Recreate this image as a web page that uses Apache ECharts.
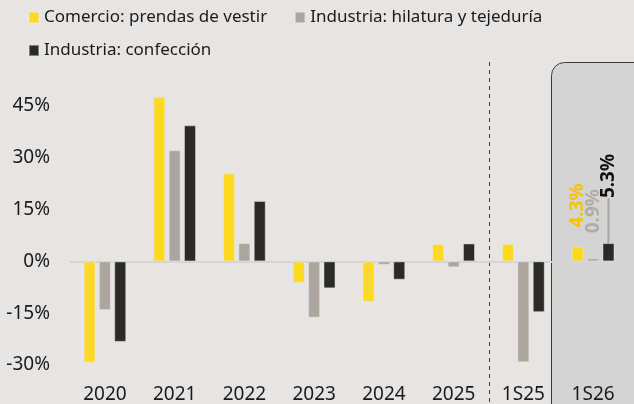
<!DOCTYPE html>
<html>
<head>
<meta charset="utf-8">
<script src="https://cdn.jsdelivr.net/npm/echarts@6/dist/echarts.min.js"></script>
<style>
  html, body { margin: 0; padding: 0; background: #e6e5e3; }
  #chart { width: 634px; height: 404px; }
</style>
</head>
<body>
<div id="chart"></div>
<script>
// datos (% variación)
const categories = ['2020', '2021', '2022', '2023', '2024', '2025', '1S25', '1S26']
const seriesNames = ['Comercio: prendas de vestir', 'Industria: hilatura y tejeduría', 'Industria: confección']
const comercio = [-29.3, 47.7, 25.5, -6.2, -11.7, 5.0, 5.0, 4.3]
const hilatura = [-14.1, 32.2, 5.3, -16.3, -1.0, -1.7, -29.2, 0.9]
const confeccion = [-23.3, 39.4, 17.5, -7.8, -5.3, 5.2, -14.7, 5.3]
const yTicks = { min: -30, max: 45, interval: 15 }

const FONT = 'Noto Sans'
const colors = ['#fdd923', '#aca59e', '#2b2a28']
const labelColors = ['#f7c300', '#b3aca4', '#111111']

const chart = echarts.init(document.getElementById('chart'))

// solo la última barra (1S26) lleva etiqueta, girada
function withLastLabel (values, idx, distance, guide) {
  return values.map((v, i) => {
    if (i !== values.length - 1) return v
    const item = {
      value: v,
      label: {
        show: true,
        position: 'top',
        distance: distance,
        rotate: 90,
        align: 'left',
        verticalAlign: 'middle',
        formatter: (p) => p.value.toFixed(1) + '%',
        color: labelColors[idx],
        fontFamily: FONT,
        fontSize: 19,
        fontWeight: 'bold'
      }
    }
    if (guide) {
      item.labelLine = { show: true, length2: 0, lineStyle: { color: '#a8a39d', width: 2 } }
    }
    return item
  })
}

function barSeries (name, values, idx, distance, guide) {
  const s = {
    name: name,
    type: 'bar',
    barWidth: 12,
    barGap: '28%',
    clip: false,
    itemStyle: { color: colors[idx], borderColor: 'rgba(235,234,232,0.45)', borderWidth: 1 },
    data: withLastLabel(values, idx, distance, guide)
  }
  if (guide) {
    // la etiqueta se sube (dx va en el sentido del texto girado) y queda unida con una guía
    s.labelLayout = (p) => (p.dataIndex === values.length - 1 ? { dx: 38 } : {})
  }
  return s
}

const legendText = { fontFamily: FONT, fontSize: 17, color: '#1a1a1a' }
const axisText = { fontFamily: FONT, fontSize: 19, color: '#1a1a1a', margin: 20 }

const option = {
  backgroundColor: '#e6e5e3',
  animation: false,
  legend: [
    {
      data: [seriesNames[0], seriesNames[1]],
      left: 28, top: 9, padding: 0,
      icon: 'rect', itemWidth: 10, itemHeight: 11, itemGap: 27,
      textStyle: legendText
    },
    {
      data: [seriesNames[2]],
      left: 28, top: 42, padding: 0,
      icon: 'rect', itemWidth: 10, itemHeight: 11,
      textStyle: legendText
    }
  ],
  grid: { left: 70, right: 6, top: 106, bottom: 39 },
  xAxis: {
    type: 'category',
    data: categories,
    axisLine: { show: false },
    axisTick: { show: false },
    axisLabel: axisText
  },
  yAxis: {
    type: 'value',
    min: yTicks.min,
    max: yTicks.max,
    interval: yTicks.interval,
    axisLine: { show: false },
    axisTick: { show: false },
    axisLabel: Object.assign({ formatter: '{value}%' }, axisText),
    splitLine: {
      show: true,
      // solo se ve la línea del 0%
      lineStyle: { color: ['transparent', 'transparent', '#d6d5d3', 'transparent', 'transparent', 'transparent'], width: 2 }
    }
  },
  series: [
    barSeries(seriesNames[0], comercio, 0, 19),
    barSeries(seriesNames[1], hilatura, 1, 25),
    barSeries(seriesNames[2], confeccion, 2, 7, true)
  ]
}

chart.setOption(option)

// separador y recuadro de 1S26 a partir de las posiciones del eje
const x2025 = chart.convertToPixel({ xAxisIndex: 0 }, '2025')
const x1S25 = chart.convertToPixel({ xAxisIndex: 0 }, '1S25')
const x1S26 = chart.convertToPixel({ xAxisIndex: 0 }, '1S26')
const divX = Math.round((x2025 + x1S25) / 2) + 0.5
const boxX = Math.round((x1S25 + x1S26) / 2) - 7 + 0.5

chart.setOption({
  graphic: [
    {
      type: 'rect',
      z: -1,
      shape: { x: boxX, y: 62.5, width: 140, height: 400, r: 13 },
      style: { fill: '#d4d4d4', stroke: '#3a3a3a', lineWidth: 1 }
    },
    {
      type: 'line',
      z: -1,
      shape: { x1: divX, y1: 62, x2: divX, y2: 404 },
      style: { stroke: '#333', lineWidth: 1, lineDash: [4, 4] }
    }
  ]
})
</script>
</body>
</html>
